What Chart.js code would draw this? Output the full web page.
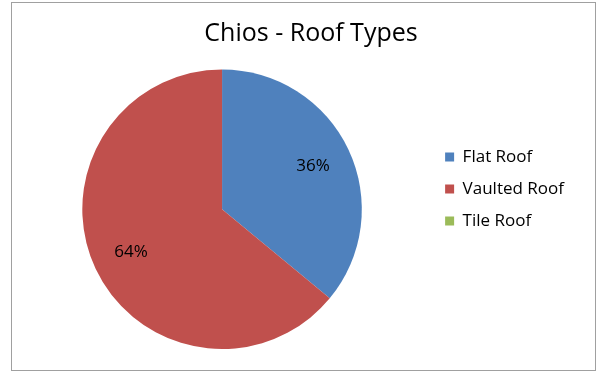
<!DOCTYPE html>
<html>
<head>
    <title>Chios - Roof Types</title>
    <script src="https://cdn.jsdelivr.net/npm/chart.js"></script>
    <style>
        html, body {
            margin: 0;
            padding: 0;
            background: #fff;
        }
        .frame {
            position: absolute;
            left: 11px;
            top: 2px;
            width: 583px;
            height: 367px;
            border: 1px solid #a0a0a0;
            background: #fff;
        }
    </style>
</head>
<body>
    <div class="frame">
        <canvas id="roofChart" width="583" height="367"></canvas>
    </div>

    <script>
        const categories = ['Flat Roof', 'Vaulted Roof', 'Tile Roof'];
        const shares = [36, 64, 0];
        const sliceColors = ['#4F81BD', '#C0504D', '#9BBB59'];

        // draws "36%" style labels inside each slice
        const sliceLabels = {
            id: 'sliceLabels',
            afterDatasetsDraw(chart) {
                const ctx = chart.ctx;
                const meta = chart.getDatasetMeta(0);
                ctx.save();
                ctx.font = '17px "Open Sans", sans-serif';
                ctx.fillStyle = '#000';
                ctx.textAlign = 'center';
                ctx.textBaseline = 'middle';
                meta.data.forEach((arc, i) => {
                    if (!shares[i]) return;
                    const p = arc.getProps(['x', 'y', 'startAngle', 'endAngle', 'outerRadius']);
                    const mid = (p.startAngle + p.endAngle) / 2;
                    const r = p.outerRadius * 0.72;
                    ctx.fillText(shares[i] + '%', p.x + Math.cos(mid) * r, p.y + Math.sin(mid) * r);
                });
                ctx.restore();
            }
        };

        // the title sits a bit right of the plot/legend centre, like the original
        const titleNudge = {
            id: 'titleNudge',
            afterLayout(chart) {
                const t = chart.titleBlock;
                t.left += 17;
                t.right += 17;
            }
        };

        new Chart(document.getElementById('roofChart'), {
            type: 'pie',
            data: {
                labels: categories,
                datasets: [{
                    data: shares,
                    backgroundColor: sliceColors,
                    borderWidth: 0
                }]
            },
            options: {
                responsive: false,
                animation: false,
                layout: {
                    padding: { left: 2, right: 21, top: 26, bottom: 21 }
                },
                plugins: {
                    title: {
                        display: true,
                        text: 'Chios - Roof Types',
                        color: '#000',
                        font: { family: '"Open Sans", sans-serif', size: 25, weight: 'normal', lineHeight: 0.42 },
                        padding: { top: 0, bottom: 30 }
                    },
                    legend: {
                        position: 'right',
                        labels: {
                            color: '#000',
                            font: { family: '"Open Sans", sans-serif', size: 17 },
                            boxWidth: 9,
                            boxHeight: 9,
                            padding: 15
                        }
                    },
                    tooltip: { enabled: false }
                }
            },
            plugins: [sliceLabels, titleNudge]
        });
    </script>
</body>
</html>
